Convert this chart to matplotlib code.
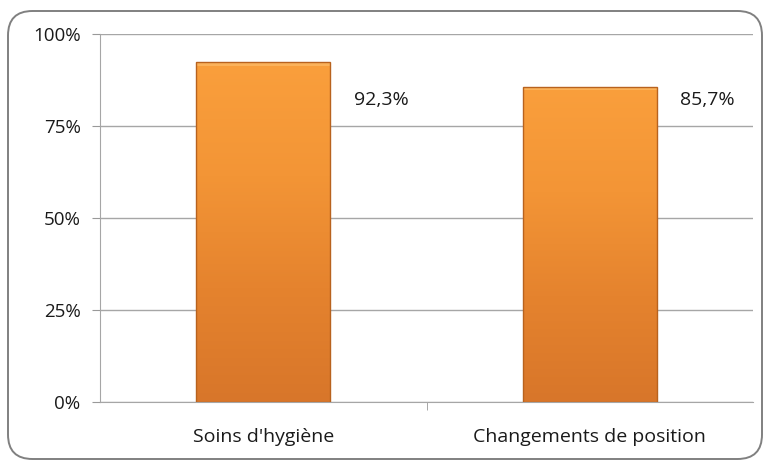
import matplotlib
matplotlib.use("Agg")
import matplotlib.pyplot as plt
import numpy as np
from matplotlib.patches import FancyBboxPatch
from matplotlib.colors import LinearSegmentedColormap

categories = ["Soins d'hygiène", "Changements de position"]
values = [92.3, 85.7]
value_labels = ["92,3%", "85,7%"]
label_y = 82
yticks = [0, 25, 50, 75, 100]
ytick_labels = ["0%", "25%", "50%", "75%", "100%"]

plt.rcParams['font.family'] = ['Open Sans', 'DejaVu Sans']

fig = plt.figure(figsize=(7.66, 4.63), dpi=100)
ax = fig.add_axes([100/766, 1-402/463, 653/766, 368/463])

# rounded border around figure
border = FancyBboxPatch((8/766, 4/463), 754/766, 448/463,
                        boxstyle="round,pad=0,rounding_size=0.032",
                        transform=fig.transFigure, fill=False,
                        edgecolor="#808080", linewidth=1.4, mutation_aspect=766/463)
fig.patches.append(border)

x = np.arange(len(categories))
width = 0.41
bars = ax.bar(x, values, width=width, color="none", edgecolor="#B8621E", linewidth=1.0, zorder=3)

cmap = LinearSegmentedColormap.from_list("og", ["#D8762A", "#E5832E", "#F39536", "#FA9F3C"])
grad = np.linspace(0, 1, 256).reshape(-1, 1)
for b in bars:
    x0, y0 = b.get_x(), b.get_y()
    w, h = b.get_width(), b.get_height()
    im = ax.imshow(grad, extent=[x0, x0 + w, y0, y0 + h], origin="lower",
                   cmap=cmap, aspect="auto", zorder=2)
    im.set_clip_path(b)
    ax.fill_between([x0, x0 + w], y0 + h - 1.0, y0 + h, color="#FDC070", alpha=0.6, zorder=2.5, linewidth=0)

for xi, lab in zip(x, value_labels):
    ax.annotate(lab, (xi + width / 2, label_y), xytext=(17, 0), textcoords="offset points",
                ha="left", va="center", fontsize=14, color="#1a1a1a")

ax.set_xlim(-0.5, 1.5)
ax.set_ylim(0, 100)
ax.set_yticks(yticks)
ax.set_yticklabels(ytick_labels, fontsize=13.5, color="#1a1a1a")
ax.set_xticks(x)
ax.set_xticklabels(categories, fontsize=14, color="#1a1a1a")
ax.tick_params(axis="x", length=0, pad=19)
ax.set_xticks([0.5], minor=True)
ax.tick_params(axis="x", which="minor", length=6, color="#999999")
ax.tick_params(axis="y", length=6, color="#999999", pad=8)
ax.grid(axis="y", color="#a6a6a6", linewidth=1.0, zorder=0)
ax.set_axisbelow(True)
for s in ["top", "right"]:
    ax.spines[s].set_visible(False)
for s in ["left", "bottom"]:
    ax.spines[s].set_color("#a6a6a6")

fig.savefig("out.png", dpi=100)
